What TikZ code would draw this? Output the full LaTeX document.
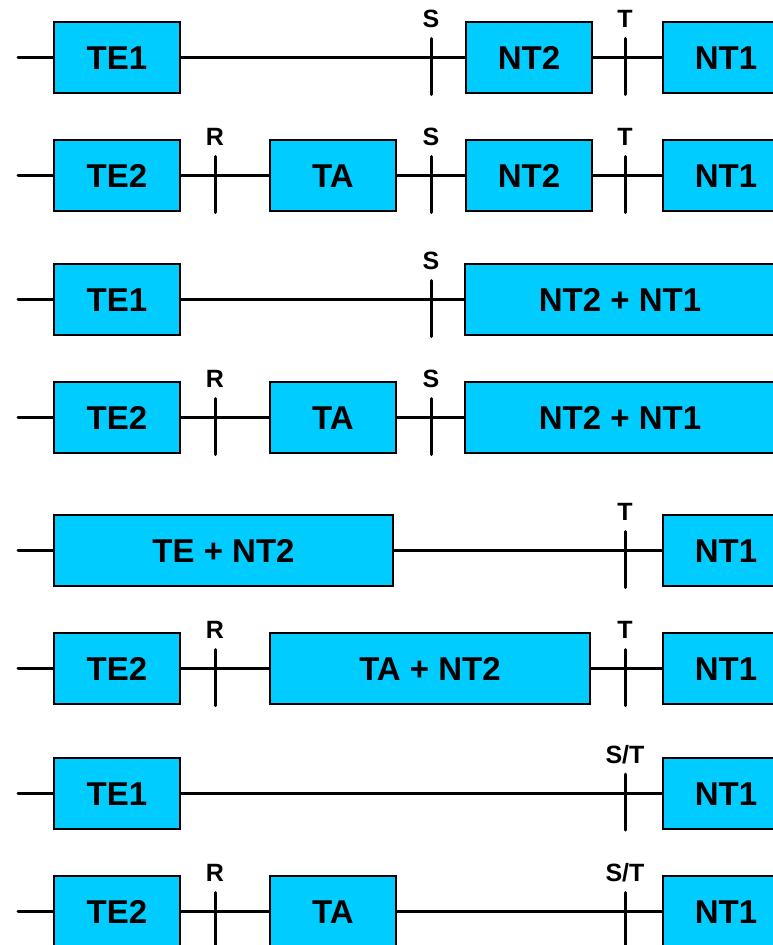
\documentclass[tikz,border=0pt]{standalone}
\usepackage{fontspec}
\setmainfont{Liberation Sans}
\definecolor{boxcyan}{RGB}{0,204,255}
\tikzset{
  blk/.style={draw=black, line width=2pt, fill=boxcyan, minimum height=71pt, inner sep=0pt,
    text height=24pt, text depth=0pt,
    font=\bfseries\fontsize{33}{33}\selectfont},
  wire/.style={line width=3pt, line cap=round},
  tickline/.style={line width=3pt, line cap=round},
  ticklbl/.style={font=\bfseries\fontsize{25}{25}\selectfont, inner sep=0pt, text height=18pt, text depth=0pt},
}
\newcommand{\tickat}[2]{%
  \draw[tickline] ([yshift=19pt]#1) -- ([yshift=-37pt]#1);
  \node[ticklbl] at ([yshift=39pt]#1) {#2};}
\begin{document}
\begin{tikzpicture}[x=1pt,y=1pt]
\useasboundingbox (0,0) rectangle (773,-945);
\clip (0,0) rectangle (773,-945);
% Row 1
\coordinate (a0) at (18,-57.5);
\node[blk, minimum width=126pt] (a1) at (117,-57.5) {TE1};
\node[blk, minimum width=126pt] (a2) at (529,-57.5) {NT2};
\node[blk, minimum width=126pt] (a3) at (726,-57.5) {NT1};
\coordinate (aS) at (431,-57.5);
\coordinate (aT) at (625,-57.5);
\draw[wire] (a0) -- (a1.west) (a1.east) -- (a2.west) (a2.east) -- (a3.west);
\tickat{aS}{S}\tickat{aT}{T}
% Row 2
\coordinate (b0) at (18,-175.5);
\node[blk, minimum width=126pt] (b1) at (117,-175.5) {TE2};
\node[blk, minimum width=126pt] (b2) at (333,-175.5) {TA};
\node[blk, minimum width=126pt] (b3) at (529,-175.5) {NT2};
\node[blk, minimum width=126pt] (b4) at (726,-175.5) {NT1};
\coordinate (bR) at (215,-175.5);
\coordinate (bS) at (431,-175.5);
\coordinate (bT) at (625,-175.5);
\draw[wire] (b0) -- (b1.west) (b1.east) -- (b2.west) (b2.east) -- (b3.west) (b3.east) -- (b4.west);
\tickat{bR}{R}\tickat{bS}{S}\tickat{bT}{T}
% Row 3
\coordinate (c0) at (18,-299.5);
\node[blk, minimum width=310pt] (c2) at (620,-299.5) {NT2 + NT1};
\node[blk, minimum width=126pt] (c1) at (117,-299.5) {TE1};
\coordinate (cS) at (431,-299.5);
\draw[wire] (c0) -- (c1.west) (c1.east) -- (c2.west);
\tickat{cS}{S}
% Row 4
\coordinate (d0) at (18,-417.5);
\node[blk, minimum width=126pt] (d1) at (117,-417.5) {TE2};
\node[blk, minimum width=126pt] (d2) at (333,-417.5) {TA};
\node[blk, minimum width=310pt] (d3) at (620,-417.5) {NT2 + NT1};
\coordinate (dR) at (215,-417.5);
\coordinate (dS) at (431,-417.5);
\draw[wire] (d0) -- (d1.west) (d1.east) -- (d2.west) (d2.east) -- (d3.west);
\tickat{dR}{R}\tickat{dS}{S}
% Row 5
\coordinate (e0) at (18,-550.5);
\node[blk, minimum width=339pt] (e1) at (223.5,-550.5) {TE + NT2};
\node[blk, minimum width=126pt] (e2) at (726,-550.5) {NT1};
\coordinate (eT) at (625,-550.5);
\draw[wire] (e0) -- (e1.west) (e1.east) -- (e2.west);
\tickat{eT}{T}
% Row 6
\coordinate (f0) at (18,-668.5);
\node[blk, minimum width=126pt] (f1) at (117,-668.5) {TE2};
\node[blk, minimum width=320pt] (f2) at (430,-668.5) {TA + NT2};
\node[blk, minimum width=126pt] (f3) at (726,-668.5) {NT1};
\coordinate (fR) at (215,-668.5);
\coordinate (fT) at (625,-668.5);
\draw[wire] (f0) -- (f1.west) (f1.east) -- (f2.west) (f2.east) -- (f3.west);
\tickat{fR}{R}\tickat{fT}{T}
% Row 7
\coordinate (g0) at (18,-793);
\node[blk, minimum width=126pt] (g1) at (117,-793) {TE1};
\node[blk, minimum width=126pt] (g2) at (726,-793) {NT1};
\coordinate (gST) at (625,-793);
\draw[wire] (g0) -- (g1.west) (g1.east) -- (g2.west);
\tickat{gST}{S/T}
% Row 8
\coordinate (h0) at (18,-911.5);
\node[blk, minimum width=126pt] (h1) at (117,-911.5) {TE2};
\node[blk, minimum width=126pt] (h2) at (333,-911.5) {TA};
\node[blk, minimum width=126pt] (h3) at (726,-911.5) {NT1};
\coordinate (hR) at (215,-911.5);
\coordinate (hST) at (625,-911.5);
\draw[wire] (h0) -- (h1.west) (h1.east) -- (h2.west) (h2.east) -- (h3.west);
\tickat{hR}{R}\tickat{hST}{S/T}
\end{tikzpicture}
\end{document}
